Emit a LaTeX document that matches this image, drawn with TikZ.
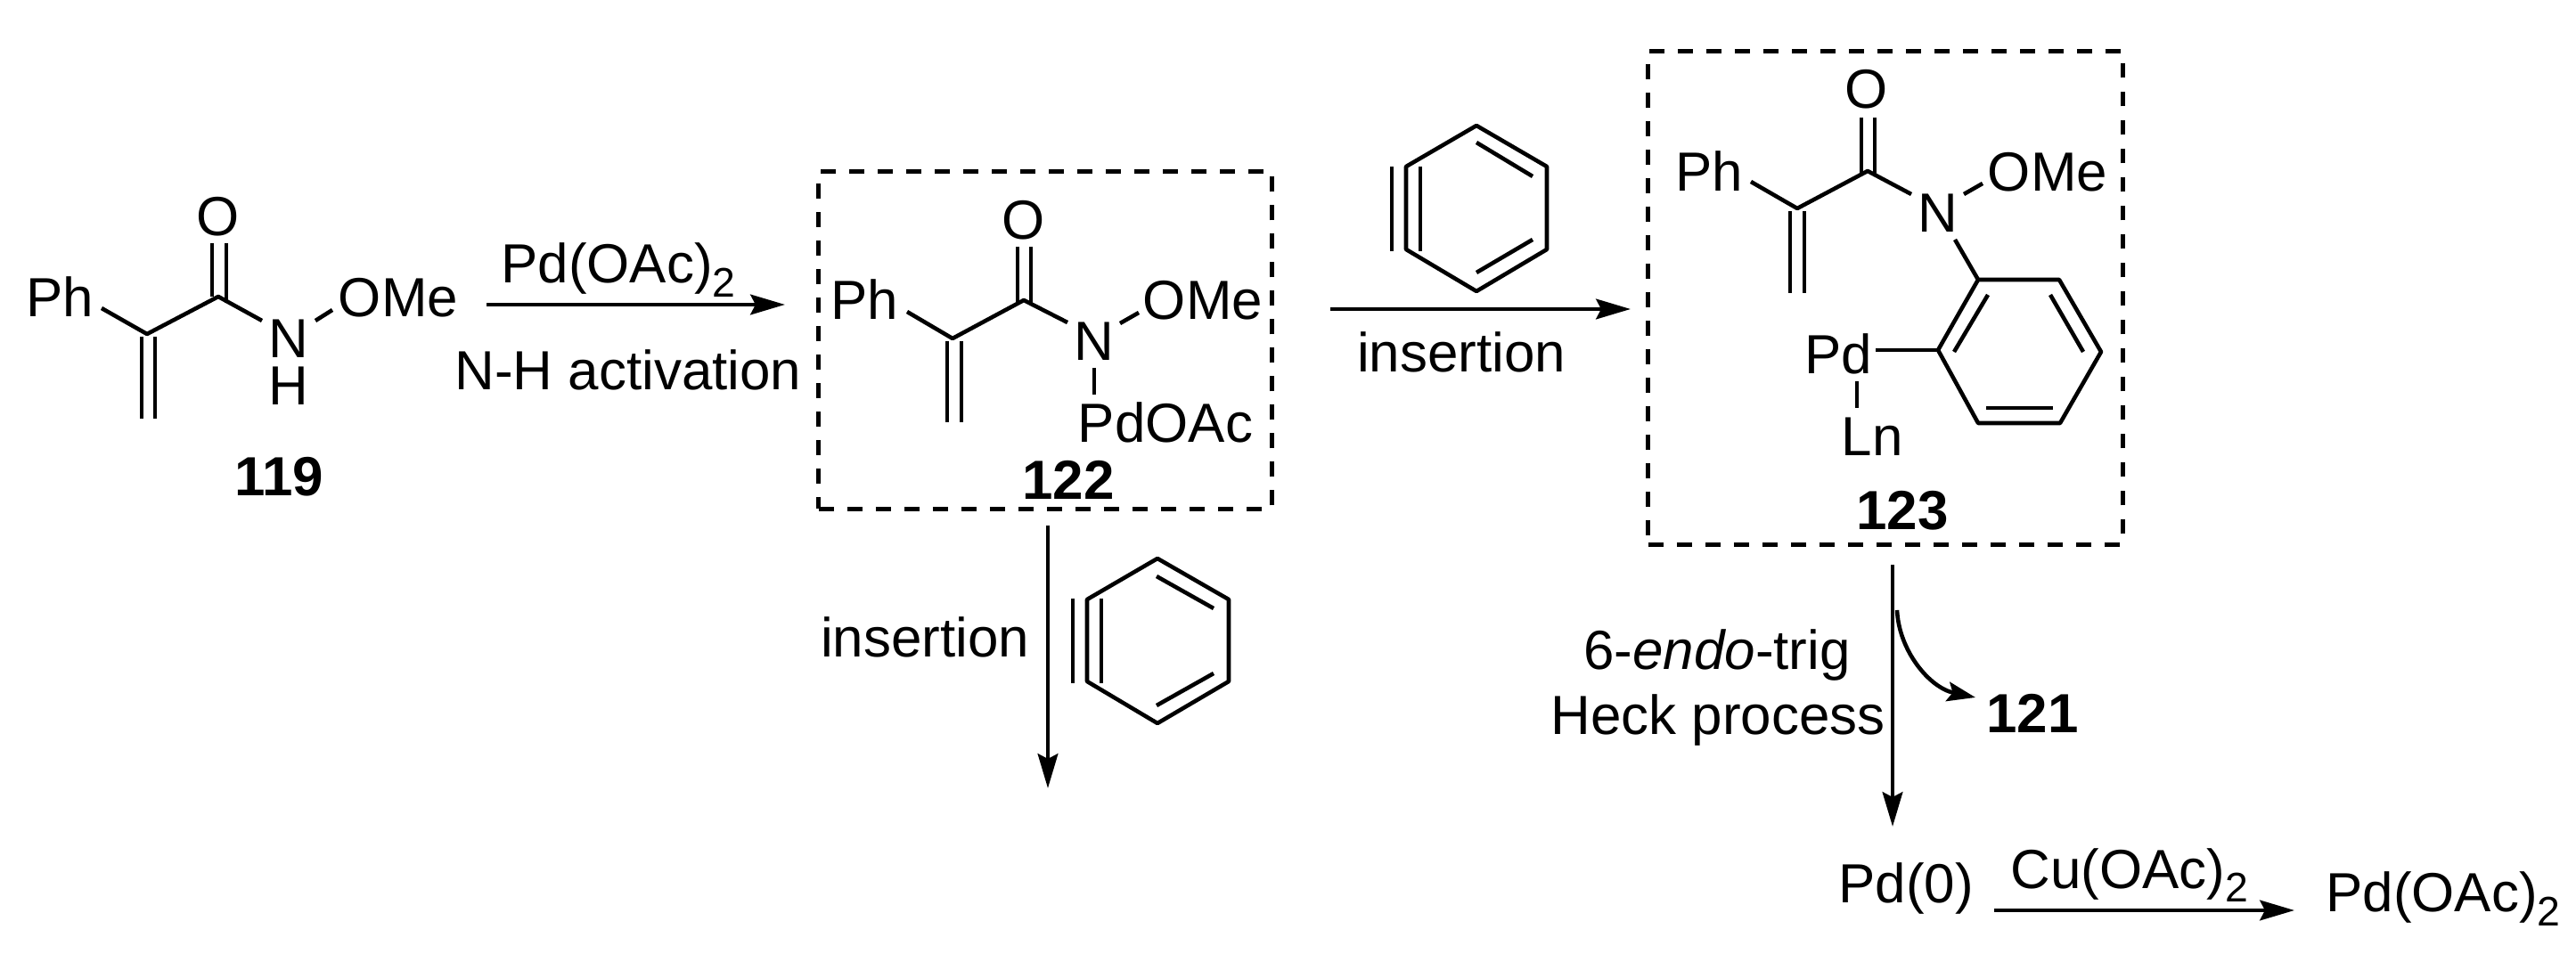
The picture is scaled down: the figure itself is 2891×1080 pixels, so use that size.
\documentclass[tikz,border=0pt]{standalone}
\usepackage{fontspec}
\setmainfont{Liberation Sans}
\usetikzlibrary{arrows.meta}
\newcommand{\subtwo}{\raisebox{-4.3pt}{\fontsize{13.2}{14}\selectfont 2}}

\begin{document}
\begin{tikzpicture}[
		x=0.01cm, y=-0.01cm,
		chem/.style={anchor=base, inner sep=0pt, font=\fontsize{17.6}{20}\selectfont},
		cmpd/.style={chem, font=\fontsize{17.6}{20}\selectfont\bfseries},
		bond/.style={line width=1.3pt, line join=round},
		rxn/.style={line width=1.4pt, -{Stealth[length=11pt, width=6.4pt, inset=1.6pt]}},
		bent/.style={line width=1.3pt, -{Stealth[length=9pt, width=6.2pt, inset=1.6pt]}},
		dashbox/.style={draw, line width=1.4pt, dash pattern=on 4.8pt off 4.3pt, inner sep=0pt, outer sep=0pt}
		]
		\useasboundingbox (0,0) rectangle (2891,1080);
	
		\node[chem] (Ph1) at (67,356) {Ph};
		\node[chem] (O1) at (245,265) {O};
		\node[chem] (N1) at (324,402) {N};
		\node[chem] (H1) at (324,455) {H};
		\node[chem] (OMe1) at (447,356) {OMe};
		\node[cmpd] (n119) at (313,557) {119};
	
		\coordinate (A1) at (245,333);
		\coordinate (B1) at (165,375);
		\coordinate (Pe1) at (114,346);
		\coordinate (Ne1) at (294,360);
		\coordinate (Oa1) at (354,360);
		\coordinate (Ob1) at (373,348);
		\draw[bond] (Pe1) -- (B1) -- (A1) -- (Ne1);
		\draw[bond] (Oa1) -- (Ob1);
		\draw[bond] (238,273) -- (238,333);
		\draw[bond] (254,273) -- (254,340);
		\draw[bond] (159,378) -- (159,470);
		\draw[bond] (174,378) -- (174,470);
	
		\node[chem] (PdOAcTop) at (694,318) {Pd(OAc)\subtwo};
		\node[chem] (NHact) at (705,438) {N-H activation};
		\coordinate (R1s) at (546,342);
		\coordinate (R1e) at (881,342);
		\draw[rxn] (R1s) -- (R1e);
	
		\node[dashbox, minimum width=5.08cm, minimum height=3.78cm] (box122) at (1173,382) {};
		\node[chem] (Ph2) at (970,359) {Ph};
		\node[chem] (O2) at (1149,269) {O};
		\node[chem] (N2) at (1228,405) {N};
		\node[chem] (OMe2) at (1350,359) {OMe};
		\node[chem] (PdOAc2) at (1308,497) {PdOAc};
		\node[cmpd] (n122) at (1199,561) {122};
	
		\coordinate (A2) at (1149,337);
		\coordinate (B2) at (1069,380);
		\coordinate (Pe2) at (1018,350);
		\coordinate (Ne2) at (1198,362);
		\coordinate (Oa2) at (1257,363);
		\coordinate (Ob2) at (1278,351);
		\coordinate (Na2) at (1228,413);
		\coordinate (Nb2) at (1228,443);
		\draw[bond] (Pe2) -- (B2) -- (A2) -- (Ne2);
		\draw[bond] (Oa2) -- (Ob2);
		\draw[bond] (Na2) -- (Nb2);
		\draw[bond] (1142,277) -- (1142,340);
		\draw[bond] (1157,277) -- (1157,343);
		\draw[bond] (1063,383) -- (1063,474);
		\draw[bond] (1079,383) -- (1079,474);
	
		\coordinate (R2s) at (1493,347);
		\coordinate (R2e) at (1830,347);
		\draw[rxn] (R2s) -- (R2e);
		\node[chem] (InsTop) at (1640,418) {insertion};
	
		\coordinate (Ya) at (1657,141);
		\coordinate (Yb) at (1736,187);
		\coordinate (Yc) at (1736,280);
		\coordinate (Yd) at (1657,327);
		\coordinate (Ye) at (1578,280);
		\coordinate (Yf) at (1578,187);
		\draw[bond] (Ya) -- (Yb) -- (Yc) -- (Yd) -- (Ye) -- (Yf) -- cycle;
		\draw[bond] (1562,187) -- (1562,282);
		\draw[bond] (1594,187) -- (1594,282);
		\draw[bond] (1657,160) -- (1720,198);
		\draw[bond] (1657,306) -- (1720,269);
	
		\coordinate (R3s) at (1176,590);
		\coordinate (R3e) at (1176,885);
		\draw[rxn] (R3s) -- (R3e);
		\node[chem] (InsLow) at (1038,738) {insertion};
	
		\coordinate (Za) at (1299,627);
		\coordinate (Zb) at (1379,673);
		\coordinate (Zc) at (1379,765);
		\coordinate (Zd) at (1299,812);
		\coordinate (Ze) at (1220,765);
		\coordinate (Zf) at (1220,673);
		\draw[bond] (Za) -- (Zb) -- (Zc) -- (Zd) -- (Ze) -- (Zf) -- cycle;
		\draw[bond] (1204,672) -- (1204,767);
		\draw[bond] (1236,672) -- (1236,767);
		\draw[bond] (1298,647) -- (1362,683);
		\draw[bond] (1298,792) -- (1362,756);
	
		\node[dashbox, minimum width=5.32cm, minimum height=5.53cm] (box123) at (2116,334.5) {};
		\node[chem] (Ph3) at (1918,215) {Ph};
		\node[chem] (O3) at (2095,122) {O};
		\node[chem] (N3) at (2175,261) {N};
		\node[chem] (OMe3) at (2298,215) {OMe};
		\node[chem] (Pd3) at (2063,420) {Pd};
		\node[chem] (Ln3) at (2101,512) {Ln};
		\node[cmpd] (n123) at (2135,595) {123};
	
		\coordinate (A3) at (2096,192);
		\coordinate (B3) at (2017,234);
		\coordinate (Pe3) at (1965,204);
		\coordinate (Ne3) at (2145,218);
		\coordinate (Oa3) at (2204,218);
		\coordinate (Ob3) at (2225,206);
		\coordinate (Nr3) at (2194,269);
		\coordinate (Ra) at (2220,314);
		\coordinate (Rb) at (2311,314);
		\coordinate (Rc) at (2358,395);
		\coordinate (Rd) at (2312,475);
		\coordinate (Re) at (2220,475);
		\coordinate (Rf) at (2175,393);
		\coordinate (Pr3) at (2105,393);
		\coordinate (La3) at (2084,428);
		\coordinate (Lb3) at (2084,458);
		\draw[bond] (Pe3) -- (B3) -- (A3) -- (Ne3);
		\draw[bond] (Oa3) -- (Ob3);
		\draw[bond] (Nr3) -- (Ra);
		\draw[bond] (Pr3) -- (Rf);
		\draw[bond] (La3) -- (Lb3);
		\draw[bond] (Ra) -- (Rb) -- (Rc) -- (Rd) -- (Re) -- (Rf) -- cycle;
		\draw[bond] (2231,331) -- (2193,395);
		\draw[bond] (2301,331) -- (2338,395);
		\draw[bond] (2229,458) -- (2304,458);
		\draw[bond] (2089,132) -- (2089,195);
		\draw[bond] (2104,132) -- (2104,196);
		\draw[bond] (2009,237) -- (2009,329);
		\draw[bond] (2025,237) -- (2025,329);
	
		\coordinate (R4s) at (2124,634);
		\coordinate (R4e) at (2124,928);
		\coordinate (Hs) at (2129,685);
		\coordinate (He) at (2217,783);
		\draw[rxn] (R4s) -- (R4e);
		\draw[bent] (Hs) .. controls (2131,730) and (2165,772) .. (He);
		\node[chem] (Endo) at (1927,752) {6-\textit{endo}-trig};
		\node[chem] (Heck) at (1928,825) {Heck process};
		\node[cmpd] (n121) at (2281,823) {121};
	
		\node[chem] (Pd0) at (2139,1014) {Pd(0)};
		\node[chem] (CuOAc) at (2390,997) {Cu(OAc)\subtwo};
		\node[chem] (PdOAcEnd) at (2742,1024) {Pd(OAc)\subtwo};
		\coordinate (R5s) at (2238,1022);
		\coordinate (R5e) at (2575,1022);
		\draw[rxn] (R5s) -- (R5e);
	
	\end{tikzpicture}
\end{document}
